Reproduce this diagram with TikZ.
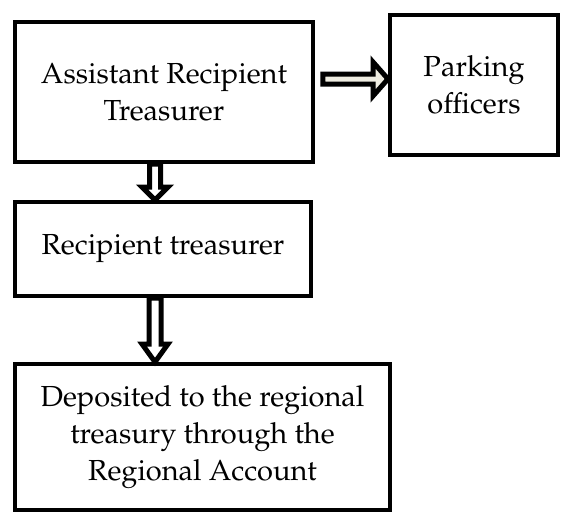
\documentclass[tikz,border=0pt]{standalone}
\usepackage[T1]{fontenc}
\usepackage{mathpazo}
\usetikzlibrary{calc}
\definecolor{cream}{HTML}{EEECE1}
\tikzset{
  box/.style={draw, line width=4pt, align=center, inner sep=0pt,
    font=\fontsize{29}{37}\selectfont},
  blockarr/.style={draw, line width=5pt, fill=white, line join=miter, miter limit=10},
}
\begin{document}
\begin{tikzpicture}[x=1pt,y=-1pt]
\useasboundingbox[fill=white] (0,0) rectangle (561,523);
\node[box, minimum width=297.5pt, minimum height=140pt] (b1) at (164,92) {Assistant Recipient\\Treasurer};
\node[box, minimum width=168pt, minimum height=140.5pt] (pk) at (474,85) {Parking\\officers};
\node[box, minimum width=296pt, minimum height=94pt] (b2) at (163,249) {Recipient treasurer};
\node[box, minimum width=375pt, minimum height=146pt] (b3) at (202.5,437) {Deposited to the regional\\treasury through the\\Regional Account};
% right arrow
\coordinate (rs) at ($(b1.east)+(8,-13)$);
\coordinate (rt) at (rs -| pk.west);
\draw[blockarr, fill=cream] ($(rs)+(0,-5)$) -- ($(rt)+(-15,-5)$) -- ($(rt)+(-15,-17)$) -- (rt)
  -- ($(rt)+(-15,17)$) -- ($(rt)+(-15,5)$) -- ($(rs)+(0,5)$) -- cycle;
% down arrow 1
\coordinate (s1) at ($(b1.south)+(-9,0)$);
\coordinate (t1) at (s1 |- b2.north);
\draw[blockarr] ($(s1)+(-5.5,0)$) -- ($(t1)+(-5.5,-13)$) -- ($(t1)+(-13,-13)$) -- (t1)
  -- ($(t1)+(13,-13)$) -- ($(t1)+(5.5,-13)$) -- ($(s1)+(5.5,0)$) -- cycle;
% down arrow 2
\coordinate (s2) at ($(b2.south)+(-8,0)$);
\coordinate (t2) at (s2 |- b3.north);
\draw[blockarr] ($(s2)+(-6,0)$) -- ($(t2)+(-6,-18)$) -- ($(t2)+(-13,-18)$) -- (t2)
  -- ($(t2)+(13,-18)$) -- ($(t2)+(6,-18)$) -- ($(s2)+(6,0)$) -- cycle;
\end{tikzpicture}
\end{document}
